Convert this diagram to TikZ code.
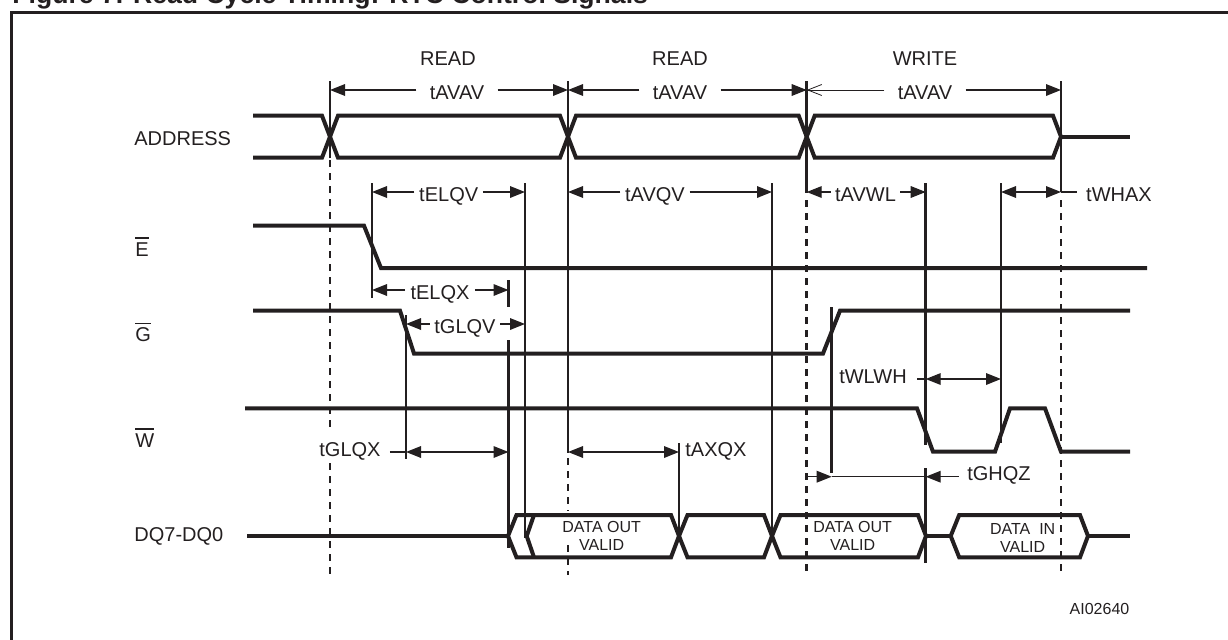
\documentclass[tikz,border=0pt]{standalone}
\usepackage{fontspec}
\setmainfont{Liberation Sans}
\usetikzlibrary{arrows.meta}

\definecolor{ink}{HTML}{231F20}
\newcommand{\barred}[1]{\leavevmode\vbox{\hrule height .7pt \kern 1.8pt \hbox{#1}}}

\tikzset{
    wave/.style={line width=2pt,line join=miter,ink},
    frameline/.style={line width=1.5pt,ink},
    tickline/.style={line width=1.25pt,ink},
    guideline/.style={line width=1.3pt,ink,dash pattern=on 3.5pt off 3pt},
    dimtip/.style={line width=.7pt,ink,-{Triangle[length=7.5pt,width=5.8pt]}},
    dimboth/.style={line width=.7pt,ink,{Triangle[length=7.5pt,width=5.8pt]}-{Triangle[length=7.5pt,width=5.8pt]}},
    dimplain/.style={line width=.7pt,ink},
    timelabel/.style={font=\fontsize{10}{12}\selectfont,text=ink,inner ysep=0pt,inner xsep=#1,text height=9.2pt,text depth=0pt},
    timelabel/.default=2.2pt,
    sidelabel/.style={font=\fontsize{10}{12}\selectfont,text=ink,inner ysep=0pt,inner xsep=#1,text height=4pt,text depth=0pt},
    signame/.style={font=\fontsize{10}{12}\selectfont,text=ink,inner sep=0pt,anchor=base west},
    cycname/.style={font=\fontsize{10}{12}\selectfont,text=ink,inner sep=0pt,anchor=base},
    datatext/.style={font=\fontsize{8}{9}\selectfont,text=ink,inner sep=0pt,align=center,anchor=base}
}

\begin{document}
\begin{tikzpicture}[x=0.5pt,y=-0.5pt]%
    \useasboundingbox (0,0) rectangle (1228,639);

    \node[font=\bfseries\fontsize{13.3}{16}\selectfont,text=ink,inner sep=0pt,anchor=base west] (title) at (12,3.8) {Figure 7. Read Cycle Timing: RTC Control Signals};
    \coordinate (frameBL) at (11,645);
    \coordinate (frameTL) at (11,12);
    \coordinate (frameTR) at (1235,12);
    \draw[frameline] (frameBL) -- (frameTL) -- (frameTR);

    % signal names
    \node[signame] (address) at (134,145) {ADDRESS};
    \node[signame] (sigE) at (135,256) {\barred{E}};
    \node[signame] (sigG) at (135,341.5) {\barred{G}};
    \node[signame] (sigW) at (135,447) {\barred{W}};
    \node[signame] (dq) at (134,541) {DQ7-DQ0};
    \node[cycname] (readA) at (448,65) {READ};
    \node[cycname] (readB) at (680,65) {READ};
    \node[cycname] (writeC) at (925,65) {WRITE};
    \node[font=\fontsize{8}{9}\selectfont,text=ink,inner sep=0pt,anchor=base west] (aicode) at (1069.3,614) {AI02640};

    % waveforms
    \begin{scope}[wave]
        \draw (253,115.7) -- (322,115.7) -- (330,136.7) -- (322,157.7) -- (253,157.7);
        \foreach \xa/\xb in {330/568,568/806.7,806.7/1061}{
            \draw ({\xa},136.7) -- ({\xa+8},115.7) -- ({\xb-8},115.7) -- ({\xb},136.7) -- ({\xb-8},157.7) -- ({\xa+8},157.7) -- cycle;
        }
        \draw (1061,136.7) -- (1130,136.7);
        \draw (253,225.7) -- (364,225.7) -- (381,268) -- (1147,268);
        \draw (253,310.7) -- (400,310.7) -- (414,353.5) -- (823,353.5) -- (840,310.7) -- (1130,310.7);
        \draw (245,408.3) -- (917,408.3) -- (933,451.7) -- (995,451.7) -- (1010,408.3) -- (1045,408.3) -- (1061,451.7) -- (1130,451.7);
        \draw (247,536) -- (508,536);
        \foreach \xa/\xb in {508/679,679/772,772/926,950.7/1088}{
            \draw ({\xa},536) -- ({\xa+8.5},515) -- ({\xb-8},515) -- ({\xb},536) -- ({\xb-8},557.3) -- ({\xa+8.5},557.3) -- cycle;
        }
        \draw (534,515) -- (526.7,536) -- (534,557.3);
        \draw (926,536) -- (950.7,536);
        \draw (1088,536) -- (1130,536);
    \end{scope}

    % edges
    \foreach \x/\ya/\yb in {330/81/158,568/81/453,806.7/81/193,1061/81/192,372/183/298,525/183/538,
            508.5/280/307,508.5/340/548,406/315/459,772/183/536,679/443/536,925.7/183/445,
            925.7/468/563,1001/183/443,831.7/307/472.7}{
        \draw[tickline] (\x,\ya) -- (\x,\yb);
    }
    \foreach \x/\ya/\yb in {330/160/433,330/463/575,568/458/511,568/545/575,806.7/200/575,1061/200/575}{
        \draw[guideline] (\x,\ya) -- (\x,\yb);
    }

    % timing labels with an arrow on each side
    \foreach \name/\txt/\xc/\y/\xl/\xr/\sep in {
            tavavA/tAVAV/457/90/330/568/6.5pt,
            tavavB/tAVAV/680/90/568/806.7/6.5pt,
            telqv/tELQV/448.7/192/372/525/2.2pt,
            tavqv/tAVQV/655/192/568/772/2.2pt,
            tavwl/tAVWL/865.5/192/806.7/925.7/2pt,
            telqx/tELQX/440/290/372/508.5/2.5pt,
            tglqv/tGLQV/465/324/406/525/2.2pt}{
        \node[timelabel=\sep] (\name) at (\xc,\y) {\txt};
        \coordinate (\name L) at (\xl,\y);
        \coordinate (\name R) at (\xr,\y);
        \draw[dimtip] (\name) -- (\name L);
        \draw[dimtip] (\name) -- (\name R);
    }

    \node[timelabel=6.5pt] (tavavC) at (925,90) {tAVAV};
    \coordinate (tavavCL) at (806.7,90);
    \coordinate (tavavCR) at (1061,90);
    \draw[line width=.4pt,ink,-{Straight Barb[length=7pt,width=5.5pt]}] (tavavC) -- (tavavCL);
    \draw[dimtip] (tavavC) -- (tavavCR);

    % labels with a stub outside the arrows
    \node[timelabel=4.3pt] (twhax) at (1119,192) {tWHAX};
    \coordinate (twhaxL) at (1001,192);
    \coordinate (twhaxR) at (1061,192);
    \draw[dimboth] (twhaxL) -- (twhaxR);
    \draw[dimplain] (twhaxR) -- (twhax);

    \node[sidelabel=4.5pt] (tglqx) at (350,452) {tGLQX};
    \coordinate (tglqxL) at (406,452);
    \coordinate (tglqxR) at (508.5,452);
    \draw[dimboth] (tglqxL) -- (tglqxR);
    \draw[dimplain] (tglqx) -- (tglqxL);

    \node[sidelabel=5pt] (twlwh) at (873,379) {tWLWH};
    \coordinate (twlwhL) at (925.7,379);
    \coordinate (twlwhR) at (1001,379);
    \draw[dimboth] (twlwhL) -- (twlwhR);
    \draw[dimplain] (twlwh) -- (twlwhL);

    \node[sidelabel=4pt] (tghqz) at (999,476.7) {tGHQZ};
    \coordinate (tghqzL) at (806.7,476.7);
    \coordinate (tghqzM) at (831.7,476.7);
    \coordinate (tghqzR) at (925.7,476.7);
    \draw[dimtip] (tghqzL) -- (tghqzM);
    \draw[dimplain] (tghqzM) -- (tghqzR);
    \draw[dimtip] (tghqz) -- (tghqzR);

    \coordinate (taxqxL) at (568,452);
    \coordinate (taxqxR) at (679,452);
    \draw[dimboth] (taxqxL) -- (taxqxR);
    \node[sidelabel=0pt,anchor=west] (taxqx) at (685,452) {tAXQX};

    % data labels
    \node[datatext] (dataA) at (601.7,550) {DATA OUT\\VALID};
    \node[datatext] (dataB) at (852.7,550) {DATA OUT\\VALID};
    \node[datatext] (dataC) at (1022.7,552) {DATA\ \ IN\\VALID};
\end{tikzpicture}
\end{document}
